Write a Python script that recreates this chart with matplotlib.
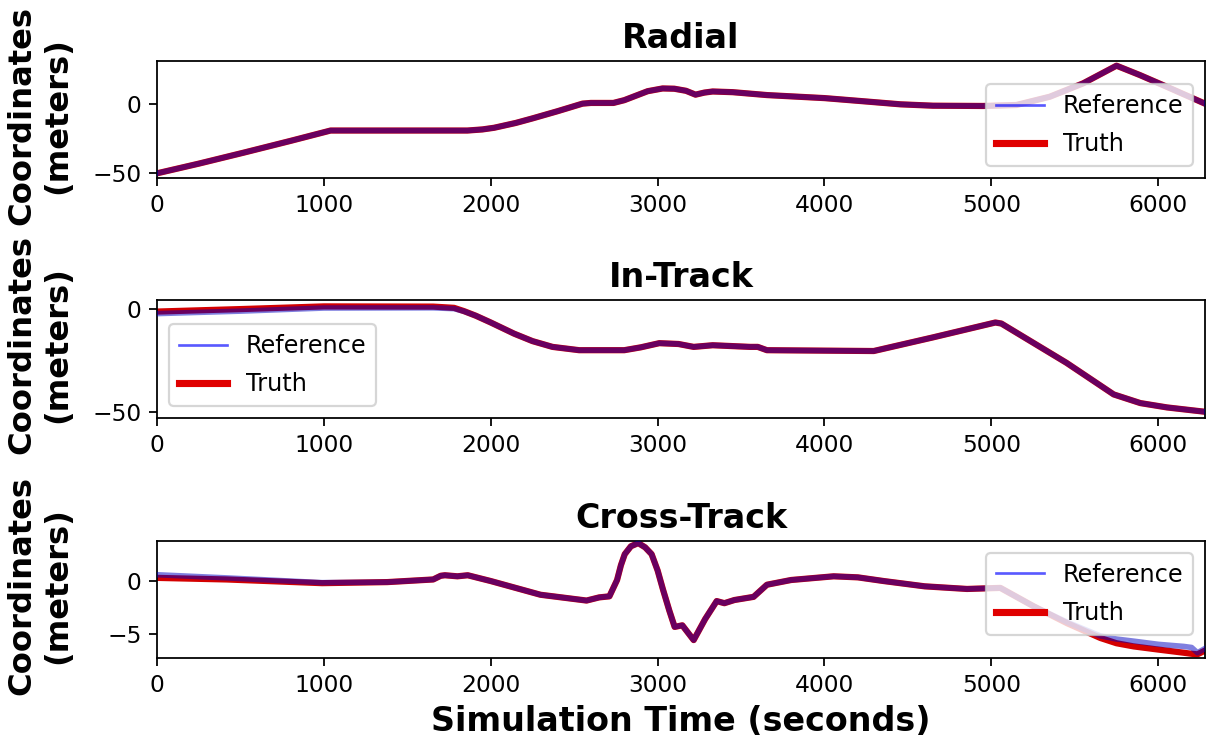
import matplotlib.pyplot as plt
from matplotlib.lines import Line2D

# radial component (reference and truth overlap)
radial_t = [0, 250, 520, 800, 1040, 1400, 1860, 1950, 2020, 2150, 2250, 2400,
            2550, 2600, 2735, 2800, 2940, 3030, 3100, 3170, 3227, 3280, 3330,
            3450, 3655, 4000, 4255, 4455, 4650, 4950, 5150, 5350, 5550, 5750,
            5890, 6050, 6280]
radial_ref = [-50, -43, -35, -26.5, -19, -19, -19, -18.2, -17, -13.5, -10.2, -5,
              0.5, 1, 1, 3, 9.5, 11.5, 11.3, 9.8, 7, 8.5, 9.3,
              8.8, 6.7, 4.5, 2, 0, -1, -1.2, -0.5, 5.5, 15.2, 28,
              21.2, 12.8, 0.5]
radial_truth = radial_ref

# in-track component
intrack_t = [0, 500, 1000, 1655, 1780, 1840, 1910, 2000, 2140, 2250, 2370, 2530,
             2800, 2900, 3010, 3125, 3216, 3330, 3555, 3600, 3655, 4295, 4650,
             5024, 5060, 5450, 5733, 5893, 6053, 6280]
intrack_ref = [-2.2, -1.0, 0.5, 0.6, 0.2, -1.1, -3.2, -6.5, -11.9, -15.5, -18.3, -19.9,
               -19.9, -18.5, -16.5, -16.9, -18.3, -17.5, -18.3, -18.3, -19.9, -20.3, -13.7,
               -6.5, -7, -26, -41.3, -45.5, -47.6, -49.7]
intrack_truth = [-1.2, 0.0, 1.3, 1.2, 0.6, -1.0, -3.2, -6.5, -11.9, -15.5, -18.3, -19.9,
                 -19.9, -18.5, -16.5, -16.9, -18.3, -17.5, -18.3, -18.3, -19.9, -20.3, -13.7,
                 -6.5, -7, -26, -41.3, -45.5, -47.6, -49.7]

# cross-track component
cross_t = [0, 417, 989, 1379, 1655, 1700, 1725, 1800, 1862, 2000, 2298, 2574,
           2650, 2711, 2757, 2780, 2803, 2840, 2884, 2925, 2964, 3000, 3032, 3070,
           3102, 3148, 3216, 3285, 3354, 3400, 3460, 3575, 3655, 3800, 4055, 4200,
           4355, 4600, 4854, 5054, 5254, 5454, 5653, 5750, 5853, 6000, 6153, 6200,
           6235, 6280]
cross_ref = [0.6, 0.3, -0.15, -0.1, 0.15, 0.5, 0.55, 0.45, 0.55, 0.0, -1.3, -1.85,
             -1.55, -1.45, 0.1, 1.5, 2.55, 3.3, 3.6, 3.2, 2.55, 1.0, -0.8, -2.8,
             -4.35, -4.2, -5.6, -3.6, -1.9, -2.1, -1.8, -1.5, -0.35, 0.1, 0.45, 0.35,
             0.0, -0.5, -0.75, -0.65, -2.4, -3.9, -5.2, -5.5, -5.7, -6.0, -6.2, -6.3,
             -6.8, -6.4]
cross_truth = [0.3, 0.15, -0.2, -0.1, 0.15, 0.5, 0.55, 0.45, 0.55, 0.0, -1.3, -1.85,
               -1.55, -1.45, 0.1, 1.5, 2.55, 3.3, 3.6, 3.2, 2.55, 1.0, -0.8, -2.8,
               -4.35, -4.2, -5.6, -3.6, -1.9, -2.1, -1.8, -1.5, -0.35, 0.1, 0.45, 0.35,
               0.0, -0.5, -0.75, -0.65, -2.4, -4.0, -5.4, -5.9, -6.2, -6.5, -6.8, -6.9,
               -6.95, -6.6]

titles = ['Radial', 'In-Track', 'Cross-Track']
ylims = [(-53.4, 31.4), (-52.7, 4.4), (-7.3, 3.8)]
yticks = [[-50, 0], [-50, 0], [-5, 0]]
legend_locs = ['lower right', 'lower left', 'upper right']
label_y = [0.53, 0.62, 0.62]
xticks = [0, 1000, 2000, 3000, 4000, 5000, 6000]

series = [(radial_t, radial_ref, radial_truth),
          (intrack_t, intrack_ref, intrack_truth),
          (cross_t, cross_ref, cross_truth)]

fig = plt.figure(figsize=(1207 / 160, 742 / 160), dpi=160)
boxes = [[0.1301, 0.7601, 0.8682, 0.1577],
         [0.1301, 0.4367, 0.8682, 0.1590],
         [0.1301, 0.1132, 0.8682, 0.1577]]

handles = [Line2D([], [], color='b', lw=1.2, alpha=0.65),
           Line2D([], [], color='#e00000', lw=3.2)]

for i in range(3):
    ax = fig.add_axes(boxes[i])
    t, ref, truth = series[i]
    ax.plot(t, truth, color='#d40000', lw=2.8, zorder=2)
    ax.plot(t, ref, color='#0000c0', lw=2.5, alpha=0.5, zorder=3)
    ax.set_xlim(0, 6280)
    ax.set_ylim(*ylims[i])
    ax.set_xticks(xticks)
    ax.set_yticks(yticks[i])
    ax.tick_params(labelsize=10.5)
    ax.set_title(titles[i], fontsize=15, fontweight='bold')
    ax.set_ylabel('Coordinates\n(meters)', fontsize=14.5, fontweight='bold')
    ax.yaxis.set_label_coords(-0.08, label_y[i])
    ax.legend(handles, ['Reference', 'Truth'], loc=legend_locs[i],
              fontsize=10.8, handlelength=2.0, labelspacing=0.6)

ax.set_xlabel('Simulation Time (seconds)', fontsize=15, fontweight='bold')

fig.savefig('out.png', dpi=160)
